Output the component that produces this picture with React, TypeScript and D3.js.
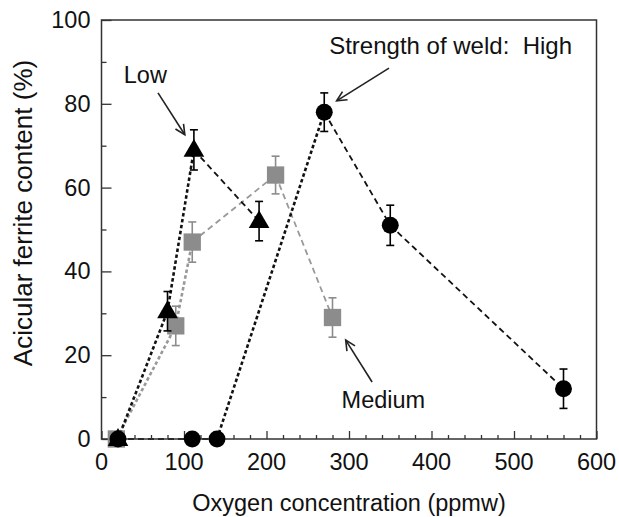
import React, { useEffect, useRef } from "react";
import * as d3 from "d3";

// oxygen (ppmw), acicular ferrite (%), error (+/-)
const highX = [20, 110, 140, 270, 350, 560];
const highY = [0, 0, 0, 78, 51, 12];
const highErr = [0, 0, 0, 4.6, 4.8, 4.7];

const lowX = [20, 80, 112, 191];
const lowY = [0, 30.5, 69, 52];
const lowErr = [0, 4.7, 4.8, 4.7];

const medX = [18, 90, 110, 211, 280];
const medY = [0, 27, 47, 63, 29];
const medErr = [0, 4.7, 4.8, 4.5, 4.7];

const xTicks = [0, 100, 200, 300, 400, 500, 600];
const yTicks = [0, 20, 40, 60, 80, 100];

// per-segment line kind: "dot" = tight heavy dots, "dash" = longer dashes
const highSeg = ["dash", "dash", "dot", "dash", "dash"];
const lowSeg = ["dot", "dot", "dash"];
const medSeg = ["dot", "dot", "dash", "dash"];

const GRAY = "#8c8c8c";

export default function App() {
  const ref = useRef<SVGSVGElement>(null);

  useEffect(() => {
    const width = 619,
      height = 517,
      margin = { top: 20, right: 22.5, bottom: 78, left: 101.5 };

    const svg = d3.select(ref.current);
    svg.selectAll("*").remove();
    svg.attr("width", width).attr("height", height);

    const x = d3.scaleLinear().domain([0, 600]).range([margin.left, width - margin.right]);
    const y = d3.scaleLinear().domain([0, 100]).range([height - margin.bottom, margin.top]);

    const font = "'Liberation Sans', Arial, sans-serif";

    const mk = (xs, ys, es) => xs.map((v, i) => ({ x: v, y: ys[i], e: es[i] }));
    const series = [
      { pts: mk(medX, medY, medErr), seg: medSeg, color: GRAY, shape: "square" },
      { pts: mk(lowX, lowY, lowErr), seg: lowSeg, color: "#000", shape: "triangle" },
      { pts: mk(highX, highY, highErr), seg: highSeg, color: "#000", shape: "circle" },
    ];

    // lines
    series.forEach((s) => {
      const lineColor = s.color === GRAY ? "#999" : "#111";
      for (let i = 0; i < s.pts.length - 1; i++) {
        const a = s.pts[i],
          b = s.pts[i + 1];
        const dot = s.seg[i] === "dot";
        svg
          .append("line")
          .attr("x1", x(a.x))
          .attr("y1", y(a.y))
          .attr("x2", x(b.x))
          .attr("y2", y(b.y))
          .attr("stroke", lineColor)
          .attr("stroke-width", dot ? 2.6 : 1.8)
          .attr("stroke-dasharray", dot ? "3.5,2.5" : "6,4");
      }
    });

    // axes frame
    svg
      .append("rect")
      .attr("x", x(0))
      .attr("y", y(100))
      .attr("width", x(600) - x(0))
      .attr("height", y(0) - y(100))
      .attr("fill", "none")
      .attr("stroke", "#333")
      .attr("stroke-width", 1.5);

    const xAxis = svg
      .append("g")
      .attr("transform", `translate(0,${y(0)})`)
      .call(
        d3
          .axisBottom(x)
          .tickValues(d3.range(0, 601, 20))
          .tickSize(-4)
          .tickFormat(() => "")
      );
    xAxis.select(".domain").remove();
    xAxis
      .selectAll(".tick line")
      .attr("stroke", "#333")
      .attr("stroke-width", 1.3)
      .attr("y2", (d) => (d % 100 === 0 ? -8 : -4));
    svg
      .append("g")
      .selectAll("text")
      .data(xTicks)
      .enter()
      .append("text")
      .attr("x", (d) => x(d))
      .attr("y", y(0) + 31)
      .attr("text-anchor", "middle")
      .attr("font-family", font)
      .attr("font-size", 23.5)
      .attr("fill", "#111")
      .text((d) => d);

    const yAxis = svg
      .append("g")
      .attr("transform", `translate(${x(0)},0)`)
      .call(
        d3
          .axisLeft(y)
          .tickValues(d3.range(0, 101, 10))
          .tickSize(-5)
          .tickFormat(() => "")
      );
    yAxis.select(".domain").remove();
    yAxis
      .selectAll(".tick line")
      .attr("stroke", "#333")
      .attr("stroke-width", 1.3)
      .attr("x2", (d) => (d % 20 === 0 ? 10 : 5));
    svg
      .append("g")
      .selectAll("text")
      .data(yTicks)
      .enter()
      .append("text")
      .attr("x", x(0) - 11)
      .attr("y", (d) => y(d) + 8)
      .attr("text-anchor", "end")
      .attr("font-family", font)
      .attr("font-size", 23.5)
      .attr("fill", "#111")
      .text((d) => d);

    // error bars + markers
    series.forEach((s) => {
      const g = svg.append("g");
      s.pts
        .filter((p) => p.e > 0)
        .forEach((p) => {
          const cx = x(p.x);
          g.append("line")
            .attr("x1", cx)
            .attr("x2", cx)
            .attr("y1", y(p.y - p.e))
            .attr("y2", y(p.y + p.e))
            .attr("stroke", s.color)
            .attr("stroke-width", 1.6);
          [p.y - p.e, p.y + p.e].forEach((v) =>
            g
              .append("line")
              .attr("x1", cx - 4)
              .attr("x2", cx + 4)
              .attr("y1", y(v))
              .attr("y2", y(v))
              .attr("stroke", s.color)
              .attr("stroke-width", 1.6)
          );
        });
      const sym =
        s.shape === "circle"
          ? d3.symbol(d3.symbolCircle, 225)
          : s.shape === "square"
          ? d3.symbol(d3.symbolSquare, 300)
          : d3.symbol(d3.symbolTriangle, 185);
      g.selectAll("path")
        .data(s.pts)
        .enter()
        .append("path")
        .attr("d", sym as any)
        .attr("transform", (p) => `translate(${x(p.x)},${y(p.y) + (s.shape === "triangle" ? 1 : 0)})`)
        .attr("fill", s.color);
    });

    // annotations
    const arrow = (x1, y1, x2, y2) => {
      const ax1 = x(x1),
        ay1 = y(y1),
        ax2 = x(x2),
        ay2 = y(y2);
      const ang = Math.atan2(ay2 - ay1, ax2 - ax1);
      const h = 11,
        w = 0.45;
      const g = svg.append("g").attr("stroke", "#222").attr("stroke-width", 1.6).attr("fill", "none");
      g.append("line").attr("x1", ax1).attr("y1", ay1).attr("x2", ax2).attr("y2", ay2);
      g.append("path").attr(
        "d",
        `M${ax2 - h * Math.cos(ang - w)},${ay2 - h * Math.sin(ang - w)}L${ax2},${ay2}L${
          ax2 - h * Math.cos(ang + w)
        },${ay2 - h * Math.sin(ang + w)}`
      );
    };
    const label = (tx, ty, t, size = 23.5) =>
      svg
        .append("text")
        .attr("x", x(tx))
        .attr("y", y(ty))
        .attr("font-family", font)
        .attr("font-size", size)
        .attr("fill", "#111")
        .style("white-space", "pre")
        .text(t);

    label(27, 85, "Low");
    arrow(68.5, 82.6, 101, 72.6);
    label(276, 92, "Strength of weld:  High", 24);
    arrow(348.5, 88.5, 285, 80.7);
    label(291, 7.3, "Medium");
    arrow(328, 13.6, 296, 23.6);

    // axis titles
    svg
      .append("text")
      .attr("x", (x(0) + x(600)) / 2)
      .attr("y", height - 6)
      .attr("text-anchor", "middle")
      .attr("font-family", font)
      .attr("font-size", 23.5)
      .attr("fill", "#111")
      .text("Oxygen concentration (ppmw)");
    svg
      .append("text")
      .attr("transform", `translate(32,213) rotate(-90)`)
      .attr("text-anchor", "middle")
      .attr("font-family", font)
      .attr("font-size", 26)
      .attr("fill", "#111")
      .text("Acicular ferrite content (%)");
  }, []);

  return (
    <div style={{ position: "absolute", left: 0, top: 0 }}>
      <svg ref={ref} style={{ display: "block", background: "#fff" }}></svg>
    </div>
  );
}
